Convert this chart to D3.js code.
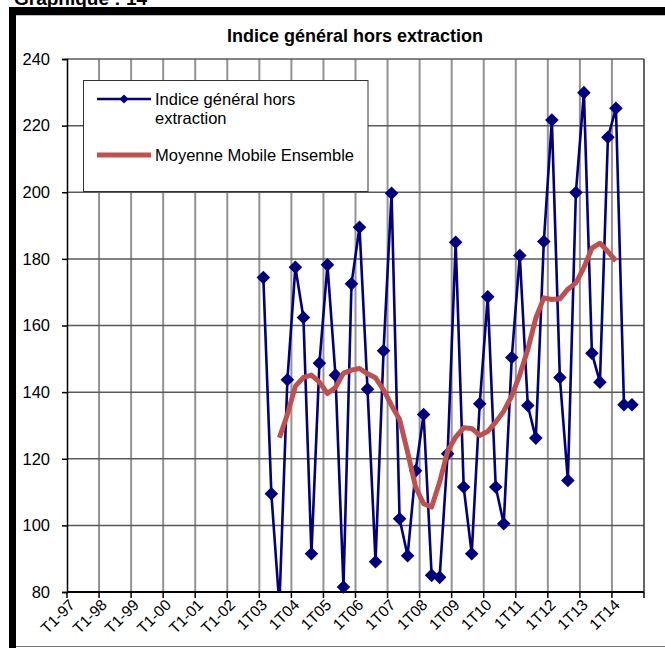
<!DOCTYPE html>
<html>
<head>
<meta charset="utf-8">
<script src="https://cdn.jsdelivr.net/npm/d3@7"></script>
<style>
  body { margin: 0; background: #fff; }
  svg { display: block; }
  text { font-family: "Liberation Sans", Arial, sans-serif; fill: #000; }
</style>
</head>
<body>
<svg id="chart" width="665" height="648"></svg>
<script>
// Quarterly category axis, 1997 to 2014
const years = ["97","98","99","00","01","02","03","04","05","06","07","08","09","10","11","12","13","14"];
const quarters = ["1","2","3","4"];
const categories = years.flatMap(yy => +yy >= 90 || +yy <= 2
  ? quarters.map(q => "T" + q + "-" + yy)
  : quarters.map(q => q + "T" + yy));

// Labels shown on the category axis (first quarter of each year)
const tickLabels = ["T1-97","T1-98","T1-99","T1-00","T1-01","T1-02","1T03","1T04","1T05","1T06",
                    "1T07","1T08","1T09","1T10","1T11","1T12","1T13","1T14"];
const yTicks = [80, 100, 120, 140, 160, 180, 200, 220, 240];

// Indice général hors extraction, from 1T03 to 3T14
const indexStart = "1T03";
const indexValues = [174.4, 109.5, 76.0, 143.7, 177.5, 162.4, 91.5, 148.7, 178.2, 145.1,
                     81.5, 172.5, 189.5, 140.9, 89.1, 152.4, 199.7, 102.0, 90.9, 116.4,
                     133.3, 85.0, 84.4, 121.5, 185.0, 111.5, 91.5, 136.5, 168.6, 111.5,
                     100.5, 150.4, 181.0, 136.0, 126.2, 185.2, 221.7, 144.4, 113.5, 199.9,
                     229.9, 151.7, 143.0, 216.5, 225.2, 136.2, 136.2];

// Moyenne mobile, from 3T03 to 1T14
const maStart = "3T03";
const maValues = [126.3, 133.3, 141.8, 144.4, 145.1, 143.0, 139.6, 141.4, 145.7, 146.6,
                  147.1, 145.5, 144.3, 140.7, 136.0, 131.8, 122.0, 111.5, 106.5, 105.5,
                  113.0, 122.3, 126.5, 129.3, 129.1, 127.0, 128.2, 131.0, 134.3, 138.9,
                  145.2, 152.8, 162.2, 168.3, 167.8, 168.0, 170.9, 172.8, 177.4, 183.2,
                  184.7, 182.2, 179.4];

const seriesName = ["Indice général hors", "extraction"];
const maName = "Moyenne Mobile Ensemble";
const chartTitle = "Indice général hors extraction";
const pageTitle = "Graphique : 14";

const toPoints = (start, vals) => {
  const i0 = categories.indexOf(start);
  return vals.map((v, k) => ({ cat: categories[i0 + k], value: v }));
};
const indexData = toPoints(indexStart, indexValues);
const maData = toPoints(maStart, maValues);

const svg = d3.select("#chart");
const plot = { left: 67, right: 644, top: 59, bottom: 592 };
const FONT = '"Liberation Sans", Arial, sans-serif';

const x = d3.scaleBand().domain(categories).range([plot.left, plot.right]).padding(0);
const y = d3.scaleLinear().domain([80, 240]).range([plot.bottom, plot.top]);
const cx = c => x(c) + x.bandwidth() / 2;

// Outer frame
svg.append("rect").attr("x", 9).attr("y", 7).attr("width", 656).attr("height", 8).attr("fill", "#000");
svg.append("rect").attr("x", 9).attr("y", 7).attr("width", 7).attr("height", 641).attr("fill", "#000");
svg.append("line").attr("x1", 16).attr("x2", 665).attr("y1", 15.5).attr("y2", 15.5)
  .attr("stroke", "#bbb").attr("stroke-width", 1);
svg.append("line").attr("x1", 16).attr("x2", 665).attr("y1", 646.5).attr("y2", 646.5)
  .attr("stroke", "#777").attr("stroke-width", 1);

svg.append("text").attr("x", 14).attr("y", 5)
  .attr("font-size", 19).attr("font-weight", "bold").text(pageTitle);

svg.append("text").attr("x", 355).attr("y", 42).attr("text-anchor", "middle")
  .attr("font-size", 18).attr("font-weight", "bold").text(chartTitle);

// Vertical gridlines every four quarters
const gridCats = categories.filter((c, i) => i % 4 === 0 && i > 0);
svg.append("g").selectAll("line").data(gridCats).join("line")
  .attr("x1", d => x(d)).attr("x2", d => x(d))
  .attr("y1", plot.top).attr("y2", plot.bottom)
  .attr("stroke", "#939393").attr("stroke-width", 2);

// Horizontal gridlines
svg.append("g").selectAll("line").data(yTicks.filter(t => t > 80)).join("line")
  .attr("x1", plot.left).attr("x2", plot.right)
  .attr("y1", d => y(d)).attr("y2", d => y(d))
  .attr("stroke", "#5a5a5a").attr("stroke-width", 1.5);

// Right edge of plot area
svg.append("line").attr("x1", plot.right).attr("x2", plot.right)
  .attr("y1", plot.top).attr("y2", plot.bottom).attr("stroke", "#333").attr("stroke-width", 1.5);

// Y axis
const yAxis = svg.append("g").attr("transform", `translate(${plot.left},0)`)
  .call(d3.axisLeft(y).tickValues(yTicks).tickSize(5).tickPadding(12));
yAxis.select(".domain").attr("stroke", "#000").attr("stroke-width", 1.5);
yAxis.selectAll(".tick line").attr("stroke", "#000").attr("stroke-width", 1.5);
yAxis.selectAll(".tick text").attr("font-size", 16.5)
  .attr("font-family", FONT).attr("fill", "#000");

// X axis: tick marks at year boundaries, rotated labels
const xAxis = svg.append("g").attr("transform", `translate(0,${plot.bottom})`)
  .call(d3.axisBottom(x).tickValues(tickLabels).tickSize(0).tickPadding(0));
xAxis.select(".domain").remove();
xAxis.selectAll(".tick text")
  .attr("font-size", 15.5).attr("font-family", FONT)
  .attr("fill", "#000")
  .attr("text-anchor", "end").attr("dy", "0.35em")
  .attr("transform", "translate(1,10) rotate(-45)");

const boundaries = categories.filter((c, i) => i % 4 === 0);
svg.append("g").selectAll("line").data(boundaries).join("line")
  .attr("x1", d => x(d)).attr("x2", d => x(d))
  .attr("y1", plot.bottom).attr("y2", plot.bottom + 6)
  .attr("stroke", "#000").attr("stroke-width", 1.5);
svg.append("line").attr("x1", plot.right).attr("x2", plot.right)
  .attr("y1", plot.bottom).attr("y2", plot.bottom + 6).attr("stroke", "#000").attr("stroke-width", 1.5);
svg.append("line").attr("x1", plot.left).attr("x2", plot.right)
  .attr("y1", plot.bottom).attr("y2", plot.bottom).attr("stroke", "#000").attr("stroke-width", 2);

// Clip to plot area
svg.append("clipPath").attr("id", "plotClip").append("rect")
  .attr("x", plot.left).attr("y", plot.top)
  .attr("width", plot.right - plot.left).attr("height", plot.bottom - plot.top);

const diamond = r => `M0,${-r}L${r},0L0,${r}L${-r},0Z`;

// Index series
const line = d3.line().x(d => cx(d.cat)).y(d => y(d.value));
svg.append("path").datum(indexData)
  .attr("clip-path", "url(#plotClip)")
  .attr("d", line).attr("fill", "none")
  .attr("stroke", "#000080").attr("stroke-width", 2.6).attr("stroke-linejoin", "round");

svg.append("g").selectAll("path").data(indexData.filter(d => d.value >= 80)).join("path")
  .attr("transform", d => `translate(${cx(d.cat)},${y(d.value)})`)
  .attr("d", diamond(6.8)).attr("fill", "#000080");

// Moving average
svg.append("path").datum(maData)
  .attr("d", line).attr("fill", "none")
  .attr("stroke", "#C0504D").attr("stroke-width", 5).attr("stroke-linejoin", "round");

// Legend
const lg = svg.append("g");
lg.append("rect").attr("x", 83.5).attr("y", 80.5).attr("width", 284.5).attr("height", 111)
  .attr("fill", "#fff").attr("stroke", "#333").attr("stroke-width", 1);
lg.append("line").attr("x1", 97).attr("x2", 151).attr("y1", 99).attr("y2", 99)
  .attr("stroke", "#000080").attr("stroke-width", 2.6);
lg.append("path").attr("transform", "translate(124,99)").attr("d", diamond(4.5)).attr("fill", "#000080");
lg.append("text").attr("x", 155).attr("y", 105).attr("font-size", 16.5).text(seriesName[0]);
lg.append("text").attr("x", 155).attr("y", 124).attr("font-size", 16.5).text(seriesName[1]);
lg.append("line").attr("x1", 97).attr("x2", 151).attr("y1", 155).attr("y2", 155)
  .attr("stroke", "#C0504D").attr("stroke-width", 5);
lg.append("text").attr("x", 155).attr("y", 161).attr("font-size", 16.5).text(maName);
</script>
</body>
</html>
